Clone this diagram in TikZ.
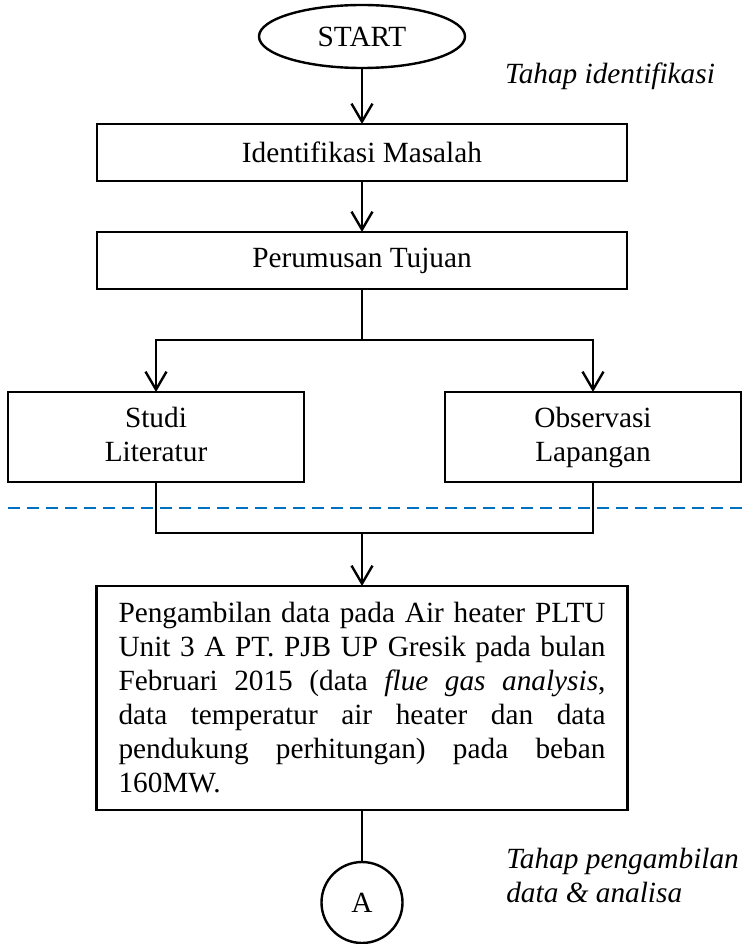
\documentclass[tikz,border=0pt]{standalone}
\usepackage{fontspec}
\setmainfont{Liberation Serif}
\usepackage{xcolor}
\usepackage{tikz}
\usetikzlibrary{shapes,arrows.meta,positioning}
\definecolor{sepblue}{RGB}{0,112,192}

\begin{document}
\begin{tikzpicture}[
    x=1pt, y=-1pt,
    font=\fontsize{29.3}{34}\selectfont,
    every node/.style={outer sep=0pt},
    terminal/.style={ellipse, draw, line width=2.4pt, minimum width=206pt, minimum height=63pt, inner sep=0pt},
    box/.style={rectangle, draw, line width=2.4pt, minimum width=530pt, minimum height=57pt, align=center},
    twobox/.style={rectangle, draw, line width=2.4pt, minimum width=296pt, minimum height=90pt, align=center},
    databox/.style={rectangle, draw, line width=2.4pt, minimum width=531pt, minimum height=224pt, inner xsep=22pt, text width=487pt, align=justify},
    conn/.style={circle, draw, line width=2.4pt, minimum size=81pt, inner sep=0pt},
    note/.style={font=\fontsize{29.3}{34}\selectfont\itshape, align=left},
    arrow/.style={-{Straight Barb[length=18pt,width=21pt]}, line width=2.4pt},
    plain/.style={line width=2.4pt},
    sep/.style={draw=sepblue, line width=2.2pt, dash pattern=on 12pt off 7pt}
]
\useasboundingbox (0,0) rectangle (743,944);

% Tahap identifikasi
\node[terminal] (start) at (362,36.5) {START};
\node[box, below=56pt of start] (ident) {Identifikasi Masalah};
\node[box, below=51pt of ident] (tujuan) {Perumusan Tujuan};
\node[twobox, below=103pt of tujuan, xshift=-206pt] (studi) {Studi\\Literatur\vphantom{g}};
\node[twobox, below=103pt of tujuan, xshift=231pt] (obs) {Observasi\\Lapangan};
\node[note] (labelident) at (610,76) {Tahap identifikasi};

% Batas tahap
\draw[sep] (8,508) -- (743,508);

% Tahap pengambilan data
\node[databox, below=297pt of tujuan] (data) {Pengambilan data pada Air heater PLTU\linebreak
Unit 3 A PT. PJB UP Gresik pada bulan\linebreak
Februari 2015 (data \textit{flue gas analysis},\linebreak
data temperatur air heater dan data\linebreak
pendukung perhitungan) pada beban\linebreak
160MW.};
\node[conn, below=52pt of data] (conA) {A};
\node[note, anchor=west] (labeldata) at (503,875) {Tahap pengambilan\\data \& analisa};

% Coordinates for branching
\coordinate[below=51pt of tujuan] (split);
\coordinate[below=244pt of tujuan] (merge);

% Arrows
\draw[arrow] (start) -- (ident);
\draw[arrow] (ident) -- (tujuan);
\draw[plain] (tujuan) -- (split);
\draw[arrow] (split) -| (studi);
\draw[arrow] (split) -| (obs);
\draw[plain] (studi) |- (merge);
\draw[plain] (obs) |- (merge);
\draw[arrow] (merge) -- (data);
\draw[plain] (data) -- (conA);

\end{tikzpicture}
\end{document}
